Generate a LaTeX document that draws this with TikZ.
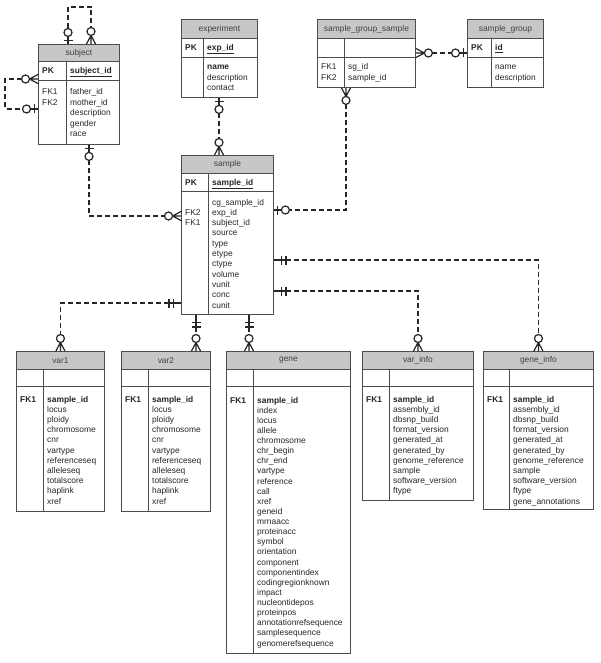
\documentclass[tikz,border=0pt]{standalone}
\usepackage{fontspec}
\setmainfont{Liberation Sans}
\usetikzlibrary{calc,positioning}
\tikzstyle{entity}=[draw=black!70, line width=0.9pt, fill=white, inner sep=0pt, anchor=north west]
\tikzstyle{title}=[entity, fill=black!22, minimum height=18pt, text=black!75, font=\fontsize{8.4}{10}\selectfont]
\tikzstyle{rule}=[draw=black!70, line width=0.9pt]
\tikzstyle{field}=[anchor=base west, inner sep=0pt, text=black!85, font=\fontsize{8.4}{10}\selectfont]
\tikzstyle{key}=[field, font=\fontsize{8.4}{10}\selectfont\bfseries]
\tikzstyle{rel}=[draw=black!85, line width=1.5pt, dash pattern=on 5pt off 3pt]
\tikzstyle{foot}=[draw=black!85, line width=1.2pt, solid]
\tikzset{%
    zeroone/.pic={
      \draw [foot] (0,0) -- (8,0) (3.5,-4.5) -- (3.5,4.5);
      \draw [foot, fill=white] (11.5,0) circle (4pt);
    },
    zeromany/.pic={
      \draw [foot] (0,-4.5) -- (8.5,0) -- (0,4.5) (0,0) -- (9,0);
      \draw [foot, fill=white] (12.5,0) circle (4pt);
    },
    oneone/.pic={
      \draw [foot] (0,0) -- (12.5,0) (7.5,-4.5) -- (7.5,4.5) (12,-4.5) -- (12,4.5);
    },
  }
\begin{document}
\begin{tikzpicture}[x=1pt, y=-1pt]
    \useasboundingbox [fill=white] (0,0) rectangle (600,663);
    % subject
    \node (subject) [entity, minimum width=81pt, minimum height=100pt] at (38,44) {};
    \node (subject-h) [title, minimum width=81pt, minimum height=17pt] at (38,44) {subject};
    \draw [rule] (38,80) -- (119,80) (66,61) -- (66,144);
    \node (subject-pk) [key] at (42,73.5) {PK};
    \node (subject-id) [key] at (70,73.5) {\underline{subject\_id}};
    \foreach \k [count=\i from 0] in {FK1,FK2}
      \node (subject-k\i) [field] at (42,95+10.5*\i) {\k};
    \foreach \f [count=\i from 0] in {father\_id,mother\_id,description,gender,race}
      \node (subject-f\i) [field] at (70,95+10.5*\i) {\f};
    %
    % experiment
    \node (experiment) [entity, minimum width=76pt, minimum height=78pt] at (181,19) {};
    \node (experiment-h) [title, minimum width=76pt, minimum height=19pt] at (181,19) {experiment};
    \draw [rule] (181,57) -- (257,57) (203,38) -- (203,97);
    \node (experiment-pk) [key] at (185,50.5) {PK};
    \node (experiment-id) [key] at (207,50.5) {\underline{exp\_id}};
    \foreach \f [count=\i from 0] in {\textbf{name},description,contact}
      \node (experiment-f\i) [field] at (207,70+10.2*\i) {\f};
    %
    % sample_group_sample
    \node (sgs) [entity, minimum width=98pt, minimum height=68pt] at (317,19) {};
    \node (sgs-h) [title, minimum width=98pt, minimum height=19pt] at (317,19) {sample\_group\_sample};
    \draw [rule] (317,57) -- (415,57) (344,38) -- (344,87);
    \foreach \k [count=\i from 0] in {FK1,FK2}
      \node (sgs-k\i) [field] at (321,70+10.2*\i) {\k};
    \foreach \f [count=\i from 0] in {sg\_id,sample\_id}
      \node (sgs-f\i) [field] at (348,70+10.2*\i) {\f};
    %
    % sample_group
    \node (group) [entity, minimum width=76pt, minimum height=68pt] at (467,19) {};
    \node (group-h) [title, minimum width=76pt, minimum height=19pt] at (467,19) {sample\_group};
    \draw [rule] (467,57) -- (543,57) (491,38) -- (491,87);
    \node (group-pk) [key] at (471,50.5) {PK};
    \node (group-id) [key] at (495,50.5) {\underline{id}};
    \foreach \f [count=\i from 0] in {name,description}
      \node (group-f\i) [field] at (495,70+10.2*\i) {\f};
    %
    % sample
    \node (sample) [entity, minimum width=92pt, minimum height=159pt] at (181,155) {};
    \node (sample-h) [title, minimum width=92pt] at (181,155) {sample};
    \draw [rule] (181,191) -- (273,191) (208,173) -- (208,314);
    \node (sample-pk) [key] at (185,185) {PK};
    \node (sample-id) [key] at (212,185) {\underline{sample\_id}};
    \node (sample-k0) [field] at (185,215.3) {FK2};
    \node (sample-k1) [field] at (185,225.6) {FK1};
    \foreach \f [count=\i from 0] in {cg\_sample\_id,exp\_id,subject\_id,source,type,etype,ctype,volume,vunit,conc,cunit}
      \node (sample-f\i) [field] at (212,205+10.3*\i) {\f};
    %
    % var1
    \node (var1) [entity, minimum width=88pt, minimum height=160pt] at (16,351) {};
    \node (var1-h) [title, minimum width=88pt] at (16,351) {var1};
    \draw [rule] (16,386) -- (104,386) (43,369) -- (43,511);
    \node (var1-k0) [key] at (20,402) {FK1};
    \foreach \f [count=\i from 0] in {\textbf{sample\_id},locus,ploidy,chromosome,cnr,vartype,referenceseq,alleleseq,totalscore,haplink,xref}
      \node (var1-f\i) [field] at (47,402+10.2*\i) {\f};
    %
    % var2
    \node (var2) [entity, minimum width=89pt, minimum height=160pt] at (121,351) {};
    \node (var2-h) [title, minimum width=89pt] at (121,351) {var2};
    \draw [rule] (121,386) -- (210,386) (148,369) -- (148,511);
    \node (var2-k0) [key] at (125,402) {FK1};
    \foreach \f [count=\i from 0] in {\textbf{sample\_id},locus,ploidy,chromosome,cnr,vartype,referenceseq,alleleseq,totalscore,haplink,xref}
      \node (var2-f\i) [field] at (152,402+10.2*\i) {\f};
    %
    % gene
    \node (gene) [entity, minimum width=124pt, minimum height=302pt] at (226,351) {};
    \node (gene-h) [title, minimum width=124pt] at (226,351) {gene};
    \draw [rule] (226,386) -- (350,386) (253,369) -- (253,653);
    \node (gene-k0) [key] at (230,403) {FK1};
    \foreach \f [count=\i from 0] in {\textbf{sample\_id},index,locus,allele,chromosome,chr\_begin,chr\_end,vartype,reference,call,xref,geneid,mrnaacc,proteinacc,symbol,orientation,component,componentindex,codingregionknown,impact,nucleontidepos,proteinpos,annotationrefsequence,samplesequence,genomerefsequence}
      \node (gene-f\i) [field] at (257,403+10.13*\i) {\f};
    %
    % var_info
    \node (varinfo) [entity, minimum width=111pt, minimum height=149pt] at (362,351) {};
    \node (varinfo-h) [title, minimum width=111pt] at (362,351) {var\_info};
    \draw [rule] (362,386) -- (473,386) (389,369) -- (389,500);
    \node (varinfo-k0) [key] at (366,402) {FK1};
    \foreach \f [count=\i from 0] in {\textbf{sample\_id},assembly\_id,dbsnp\_build,format\_version,generated\_at,generated\_by,genome\_reference,sample,software\_version,ftype}
      \node (varinfo-f\i) [field] at (393,402+10.2*\i) {\f};
    %
    % gene_info
    \node (geneinfo) [entity, minimum width=110pt, minimum height=158pt] at (483,351) {};
    \node (geneinfo-h) [title, minimum width=110pt] at (483,351) {gene\_info};
    \draw [rule] (483,386) -- (593,386) (509,369) -- (509,509);
    \node (geneinfo-k0) [key] at (487,402) {FK1};
    \foreach \f [count=\i from 0] in {\textbf{sample\_id},assembly\_id,dbsnp\_build,format\_version,generated\_at,generated\_by,genome\_reference,sample,software\_version,ftype,gene\_annotations}
      \node (geneinfo-f\i) [field] at (513,402+10.2*\i) {\f};
    %
    % relation ends
    \coordinate (subject-t1) at ($(subject.north west)+(30,0)$);
    \coordinate (subject-t2) at ($(subject.north west)+(53,0)$);
    \coordinate (subject-l1) at ($(subject.north west)+(0,35)$);
    \coordinate (subject-l2) at ($(subject.north west)+(0,65)$);
    \coordinate (subject-b) at ($(subject.south west)+(51,0)$);
    \coordinate (experiment-b) at ($(experiment.south west)+(38,0)$);
    \coordinate (sample-t) at (experiment-b |- sample.north);
    \coordinate (sgs-r) at ($(sgs.north east)+(0,34)$);
    \coordinate (group-l) at (sgs-r -| group.west);
    \coordinate (sgs-b) at ($(sgs.south west)+(29,0)$);
    \coordinate (sample-r1) at ($(sample.north east)+(0,55)$);
    \coordinate (sample-r2) at ($(sample.north east)+(0,105)$);
    \coordinate (sample-r3) at ($(sample.north east)+(0,136)$);
    \coordinate (sample-l1) at ($(sample.north west)+(0,61)$);
    \coordinate (sample-l2) at ($(sample.north west)+(0,148)$);
    \coordinate (sample-b1) at ($(sample.south west)+(15,0)$);
    \coordinate (sample-b2) at ($(sample.south west)+(68,0)$);
    \coordinate (var2-t) at (sample-b1 |- var2.north);
    \coordinate (gene-t) at (sample-b2 |- gene.north);
    %
    \draw [rel, shorten <=15.5pt, shorten >=16.5pt] (subject-t1) -- ++(0,-37) -| (subject-t2);
    \draw [rel, shorten <=16.5pt, shorten >=15.5pt] (subject-l1) -- ++(-33,0) |- (subject-l2);
    \draw [rel, shorten <=15.5pt, shorten >=16.5pt] (subject-b) |- (sample-l1);
    \draw [rel, shorten <=15.5pt, shorten >=16.5pt] (experiment-b) -- (sample-t);
    \draw [rel, shorten <=16.5pt, shorten >=15.5pt] (sgs-r) -- (group-l);
    \draw [rel, shorten <=16.5pt, shorten >=15.5pt] (sgs-b) |- (sample-r1);
    \draw [rel, shorten <=12.5pt, shorten >=16.5pt] (sample-r2) -| (geneinfo.north);
    \draw [rel, shorten <=12.5pt, shorten >=16.5pt] (sample-r3) -| (varinfo.north);
    \draw [rel, shorten <=12.5pt, shorten >=16.5pt] (sample-l2) -| (var1.north);
    \draw [rel, shorten <=12.5pt, shorten >=16.5pt] (sample-b1) -- (var2-t);
    \draw [rel, shorten <=12.5pt, shorten >=16.5pt] (sample-b2) -- (gene-t);
    %
    \pic [rotate=90] at (subject-t1) {zeroone};
    \pic [rotate=90] at (subject-t2) {zeromany};
    \pic [rotate=180] at (subject-l1) {zeromany};
    \pic [rotate=180] at (subject-l2) {zeroone};
    \pic [rotate=-90] at (subject-b) {zeroone};
    \pic [rotate=180] at (sample-l1) {zeromany};
    \pic [rotate=-90] at (experiment-b) {zeroone};
    \pic [rotate=90] at (sample-t) {zeromany};
    \pic at (sgs-r) {zeromany};
    \pic [rotate=180] at (group-l) {zeroone};
    \pic [rotate=-90] at (sgs-b) {zeromany};
    \pic at (sample-r1) {zeroone};
    \pic at (sample-r2) {oneone};
    \pic at (sample-r3) {oneone};
    \pic [rotate=180] at (sample-l2) {oneone};
    \pic [rotate=-90] at (sample-b1) {oneone};
    \pic [rotate=-90] at (sample-b2) {oneone};
    \pic [rotate=90] at (var1.north) {zeromany};
    \pic [rotate=90] at (var2-t) {zeromany};
    \pic [rotate=90] at (gene-t) {zeromany};
    \pic [rotate=90] at (varinfo.north) {zeromany};
    \pic [rotate=90] at (geneinfo.north) {zeromany};
  \end{tikzpicture}
\end{document}
